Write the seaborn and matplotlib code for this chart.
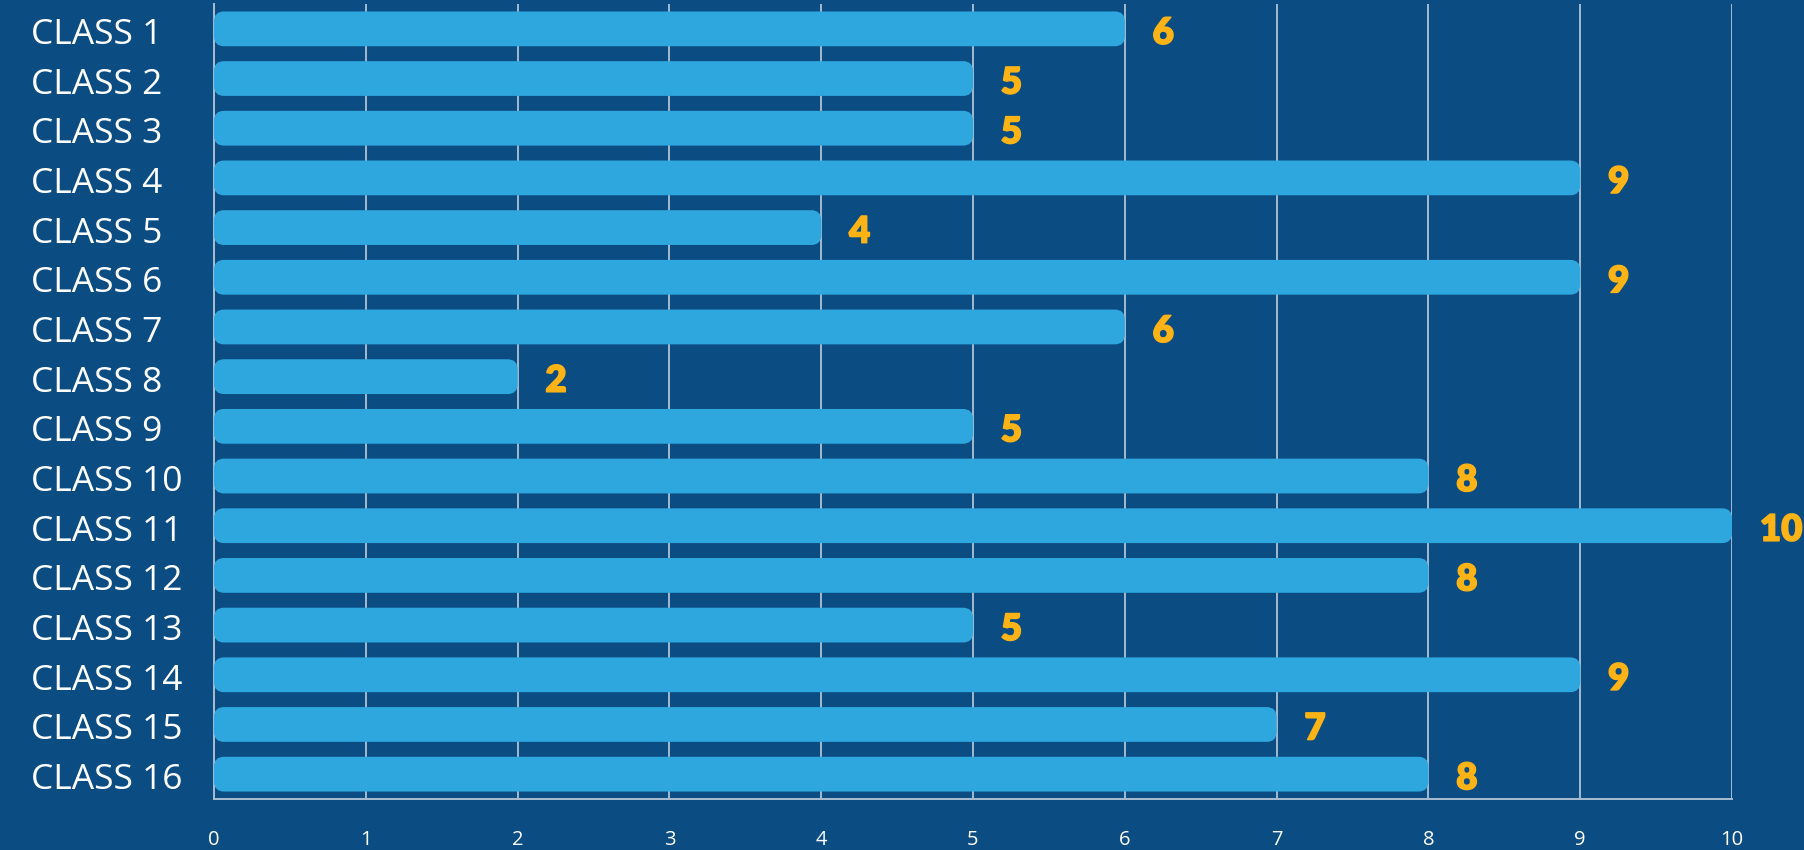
import matplotlib
matplotlib.use("Agg")
import matplotlib.pyplot as plt
from matplotlib.patches import FancyBboxPatch
import matplotlib.patheffects as pe
import matplotlib.transforms as mtransforms
import seaborn as sns
import pandas as pd

categories = [f"CLASS {i}" for i in range(1, 17)]
values = [6, 5, 5, 9, 4, 9, 6, 2, 5, 8, 10, 8, 5, 9, 7, 8]
xticks = list(range(0, 11))

BG = "#0b4c82"
BAR = "#2ea6de"
VAL = "#fcb316"
GRID = "#cdd8e4"
SPINE = "#a9bdd1"

sns.set_theme(style="white")
plt.rcParams["font.family"] = ["Open Sans", "DejaVu Sans"]

df = pd.DataFrame({"cat": categories, "val": values})

fig = plt.figure(figsize=(18.04, 8.5), dpi=100, facecolor=BG)
ax = fig.add_axes([214/1804, 1-799/850, (1732-214)/1804, (799-4)/850])
ax.set_facecolor(BG)

sns.barplot(data=df, x="val", y="cat", orient="h", color=BAR, width=0.7,
            saturation=1, ax=ax, zorder=3)

ax.set_xlim(0, 10)
ax.set_ylim(15.5, -0.5)

ppx = (1732 - 214) / 10.0
ppy = (799 - 4) / 16.0
r_px = 10
rx = r_px / ppx
ry = r_px / ppy

for p in list(ax.patches):
    x0, y0 = p.get_x(), p.get_y()
    w, h = p.get_width(), p.get_height()
    p.remove()
    fb = FancyBboxPatch((x0, y0), w, h,
                        boxstyle=f"round,pad=0,rounding_size={rx}",
                        mutation_aspect=ry / rx,
                        facecolor=BAR, edgecolor="none", zorder=3)
    ax.add_patch(fb)

for i, v in enumerate(values):
    ax.annotate(str(v), xy=(v, i), xytext=(20, -3), textcoords="offset points",
                ha="left", va="center", color=VAL, fontsize=26.5,
                fontweight="heavy", family=["Lato", "DejaVu Sans"],
                path_effects=[pe.withStroke(linewidth=1.0, foreground=VAL)],
                annotation_clip=False, zorder=4)

ax.set_xticks(xticks)
ax.set_xticklabels([str(t) for t in xticks])
ax.xaxis.grid(True, color=GRID, linewidth=1.1, zorder=1)
ax.yaxis.grid(False)
ax.set_axisbelow(True)

ax.tick_params(axis="x", length=0, pad=22, labelsize=14.5, labelcolor="white")
ax.tick_params(axis="y", length=0, pad=(214-31)*72/100, labelsize=25.5, labelcolor="white")
shift = mtransforms.ScaledTranslation(0, -2/100, fig.dpi_scale_trans)
for lab in ax.get_yticklabels():
    lab.set_horizontalalignment("left")
    lab.set_transform(lab.get_transform() + shift)

ax.set_xlabel("")
ax.set_ylabel("")

for s in ["top", "right"]:
    ax.spines[s].set_visible(False)
for s in ["left", "bottom"]:
    ax.spines[s].set_color(SPINE)
    ax.spines[s].set_linewidth(1.4)
    ax.spines[s].set_zorder(2)

fig.savefig("out.png", dpi=100, facecolor=BG)
